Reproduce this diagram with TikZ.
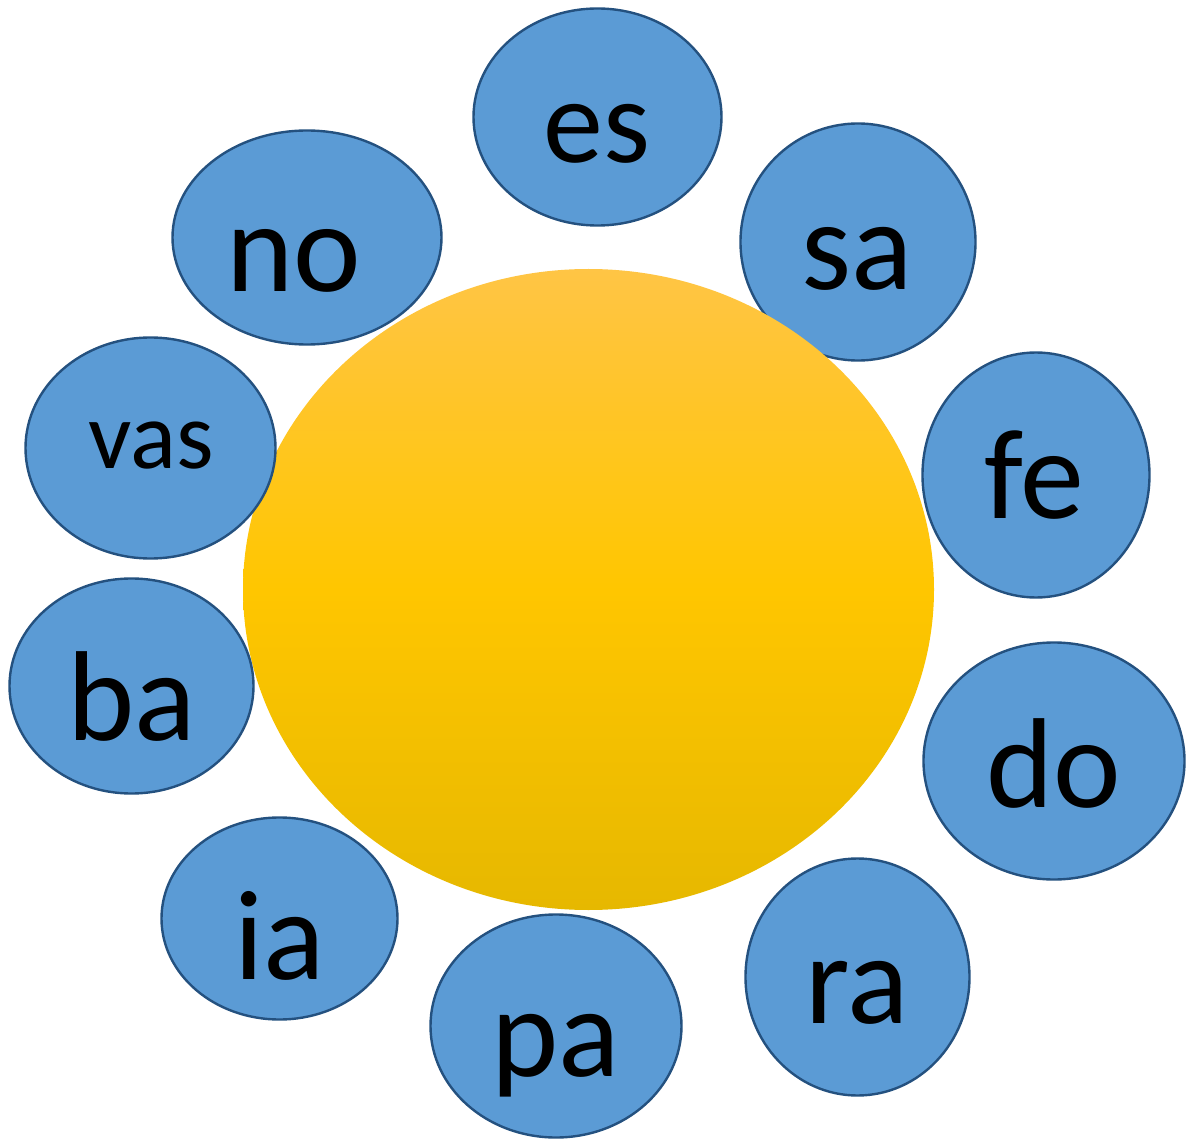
\documentclass[tikz,border=0pt]{standalone}
\usepackage{fontspec}
\setmainfont{Carlito}
\usetikzlibrary{shapes.geometric}
\definecolor{blobfill}{HTML}{5B9BD5}
\definecolor{blobline}{HTML}{24517F}
\definecolor{suntop}{HTML}{FFC545}
\definecolor{sunmid}{HTML}{FFC600}
\definecolor{sunbot}{HTML}{E6B800}
\pgfdeclareverticalshading{sunshade}{100bp}{
  color(0bp)=(sunbot);
  color(25bp)=(sunbot);
  color(50bp)=(sunmid);
  color(75bp)=(suntop);
  color(100bp)=(suntop)}
\begin{document}
\begin{tikzpicture}[x=1pt,y=-1pt,
  blob/.style={ellipse, draw=blobline, fill=blobfill, line width=2.4pt, inner sep=0pt},
  lab/.style={anchor=base, inner sep=0pt, font=\fontsize{128}{130}\selectfont},
  labs/.style={anchor=base, inner sep=0pt, font=\fontsize{120}{122}\selectfont},
  labv/.style={anchor=base, inner sep=0pt, font=\fontsize{96}{100}\selectfont}]
\useasboundingbox (0,0) rectangle (1189,1139);
% sa lies beneath the sun
\node[blob, minimum width=235pt, minimum height=237pt] (sa) at (858,242) {};
% sun
\node[ellipse, minimum width=691pt, minimum height=641pt, inner sep=0pt,
      shading=sunshade, draw=none] (sun) at (588.5,589.5) {};
% other blobs
\node[blob, minimum width=248pt, minimum height=217pt] (es) at (597.5,117) {};
\node[blob, minimum width=227pt, minimum height=245pt] (fe) at (1036,475) {};
\node[blob, minimum width=261pt, minimum height=237pt] (do) at (1054,761) {};
\node[blob, minimum width=224pt, minimum height=237pt] (ra) at (857.5,977) {};
\node[blob, minimum width=251pt, minimum height=223pt] (pa) at (556,1026) {};
\node[blob, minimum width=236pt, minimum height=202pt] (ia) at (279.5,918.5) {};
\node[blob, minimum width=244pt, minimum height=215pt] (ba) at (131.5,686) {};
\node[blob, minimum width=250pt, minimum height=221pt] (vas) at (150.5,448) {};
\node[blob, minimum width=269pt, minimum height=214pt] (no) at (307,237.5) {};
% labels
\node[labs] (tes) at (597,163) {es};
\node[lab] (tsa) at (857,290) {sa};
\node[lab] (tfe) at (1034,518) {fe};
\node[lab] (tdo) at (1054,807) {do};
\node[lab] (tra) at (857,1023) {ra};
\node[lab] (tpa) at (556,1076) {pa};
\node[lab] (tia) at (280,979) {ia};
\node[lab] (tba) at (132,740) {ba};
\node[labv] (tvas) at (151,468) {vas};
\node[lab] (tno) at (294,292) {no};
\end{tikzpicture}
\end{document}
